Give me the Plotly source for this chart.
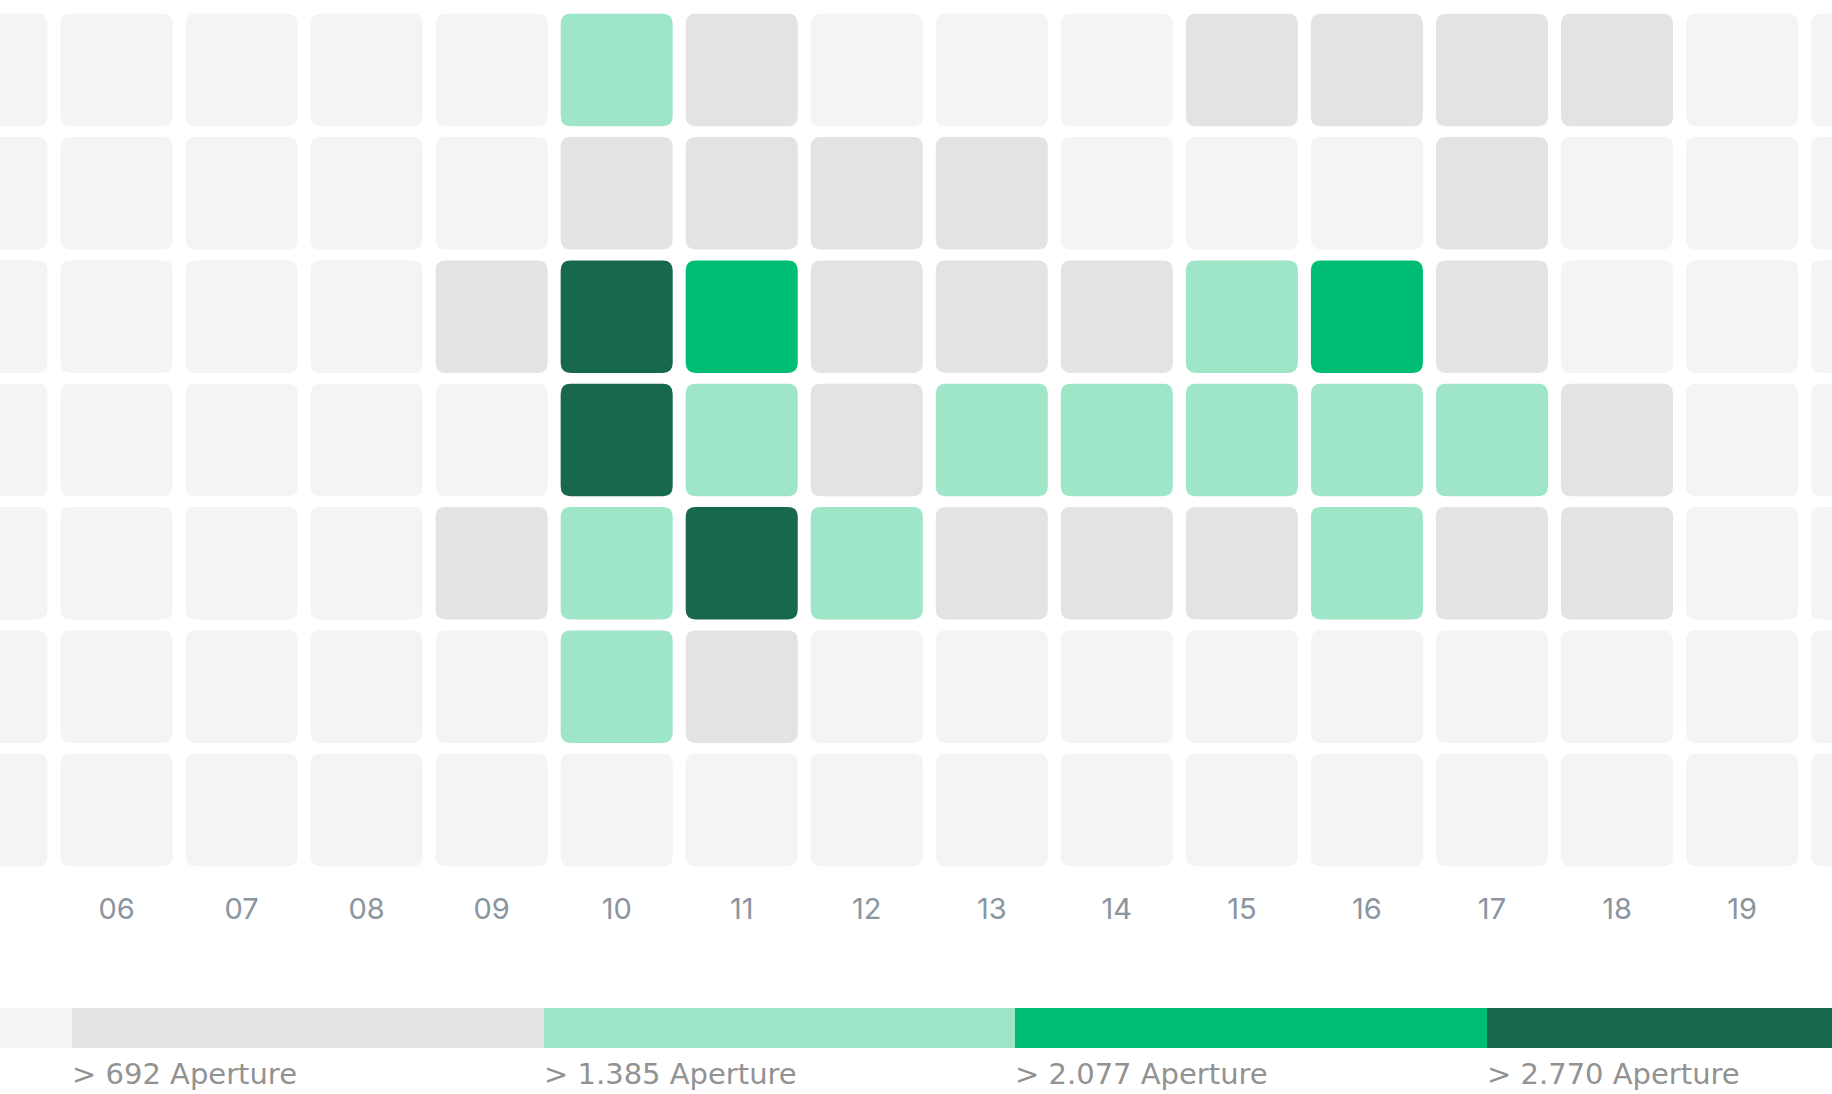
import plotly.graph_objects as go

# ---------------- data ----------------
hours = ["05", "06", "07", "08", "09", "10", "11", "12", "13", "14", "15", "16", "17", "18", "19", "20"]
days = ["Mon", "Tue", "Wed", "Thu", "Fri", "Sat", "Sun"]

mon = [210, 180, 150, 240, 420, 1620, 1050, 560, 480, 510, 880, 940, 1010, 870, 390, 260]
tue = [190, 160, 140, 230, 520, 1120, 980, 860, 760, 640, 610, 590, 790, 470, 310, 220]
wed = [200, 170, 150, 260, 960, 3120, 2480, 1180, 1040, 1100, 1560, 2290, 930, 540, 330, 240]
thu = [180, 160, 140, 250, 600, 3460, 1720, 1290, 1490, 1530, 1610, 1580, 1450, 820, 360, 230]
fri = [170, 150, 130, 240, 890, 1840, 2980, 1420, 1230, 1150, 1090, 1510, 1010, 760, 350, 210]
sat = [120, 110, 100, 150, 380, 1470, 720, 520, 460, 430, 400, 380, 330, 260, 190, 140]
sun = [90, 80, 70, 110, 210, 390, 350, 300, 270, 250, 240, 220, 200, 160, 120, 100]
values = [mon, tue, wed, thu, fri, sat, sun]

thresholds = [692, 1385, 2077, 2770]
level_colors = ["#f4f4f4", "#e3e3e3", "#9fe6c9", "#00bd75", "#18694b"]
legend_labels = ["> 692 Aperture", "> 1.385 Aperture", "> 2.077 Aperture", "> 2.770 Aperture"]


def level_of(v):
    lvl = 0
    for t in thresholds:
        if v > t:
            lvl += 1
    return lvl


# ---------------- figure ----------------
W, H = 1832, 1094
fig = go.Figure()

hx = 0.448      # half cell width (axis units)
hy = 0.456      # half cell height (axis units)
rx, ry = 0.08, 0.081  # corner radius

shapes = []
hover_x, hover_y, hover_t = [], [], []
for r, (day, row) in enumerate(zip(days, values)):
    for h, v in zip(hours, row):
        x = int(h)
        x0, x1 = x - hx, x + hx
        y0, y1 = r - hy, r + hy
        path = (
            f"M {x0+rx},{y0} L {x1-rx},{y0} Q {x1},{y0} {x1},{y0+ry} "
            f"L {x1},{y1-ry} Q {x1},{y1} {x1-rx},{y1} "
            f"L {x0+rx},{y1} Q {x0},{y1} {x0},{y1-ry} "
            f"L {x0},{y0+ry} Q {x0},{y0} {x0+rx},{y0} Z"
        )
        shapes.append(dict(type="path", path=path, xref="x", yref="y",
                           fillcolor=level_colors[level_of(v)],
                           line=dict(width=0), layer="below"))
        hover_x.append(x)
        hover_y.append(r)
        hover_t.append(f"{day} {h}:00 — {v} Aperture")

fig.add_trace(go.Scatter(
    x=hover_x, y=hover_y, mode="markers", text=hover_t, hoverinfo="text",
    marker=dict(size=60, symbol="square", opacity=0), showlegend=False,
    xaxis="x", yaxis="y"))

# legend bar (stepped colour scale)
fig.add_trace(go.Bar(
    x=[1] * len(level_colors), base=list(range(len(level_colors))),
    y=[0] * len(level_colors), orientation="h", width=1,
    marker=dict(color=level_colors, line=dict(width=0)),
    hoverinfo="skip", showlegend=False, xaxis="x2", yaxis="y2"))

for i, lab in enumerate(legend_labels):
    fig.add_annotation(x=i + 1, xref="x2", y=1 - 1074 / H, yref="paper",
                       text=lab, showarrow=False, xanchor="left", yanchor="middle",
                       xshift=-2,
                       font=dict(family="DejaVu Sans", size=29, color="#929292"))

# axis geometry derived from pixel layout
col_step = 125.04
left_px_of_5_5 = 54
x_lo = 5.5 - left_px_of_5_5 / col_step
x_hi = 5.5 + (W - left_px_of_5_5) / col_step

row_step = 123.33
row0_center = 70
plot_bottom = 880
y_top = -row0_center / row_step
y_bot = (plot_bottom - row0_center) / row_step

seg_px = [72, 545, 1016, 1487]
seg_w = (seg_px[-1] - seg_px[0]) / 3
x2_lo = 1 - seg_px[0] / seg_w
x2_hi = 1 + (W - seg_px[0]) / seg_w

fig.update_layout(
    width=W, height=H,
    margin=dict(l=0, r=0, t=0, b=0),
    paper_bgcolor="white", plot_bgcolor="white",
    shapes=shapes,
    bargap=0,
    xaxis=dict(domain=[0, 1], range=[x_lo, x_hi], showgrid=False, zeroline=False,
               tickmode="array", tickvals=[int(h) for h in hours], ticktext=hours,
               ticks="", showline=False, ticklabelstandoff=9,
               tickfont=dict(family="Inter", size=29, color="#8a959f")),
    yaxis=dict(domain=[1 - plot_bottom / H, 1], range=[y_bot, y_top], showgrid=False,
               zeroline=False, showticklabels=False, ticks="", showline=False),
    xaxis2=dict(domain=[0, 1], range=[x2_lo, x2_hi], anchor="y2", showgrid=False,
                zeroline=False, showticklabels=False, ticks="", showline=False),
    yaxis2=dict(domain=[1 - 1048 / H, 1 - 1008 / H], range=[-0.5, 0.5], anchor="x2",
                showgrid=False, zeroline=False, showticklabels=False, ticks="",
                showline=False),
    hovermode="closest",
)

fig.write_html("out.html", config={"displayModeBar": False},
               post_script="document.body.style.margin='0';document.body.style.overflow='hidden';")
